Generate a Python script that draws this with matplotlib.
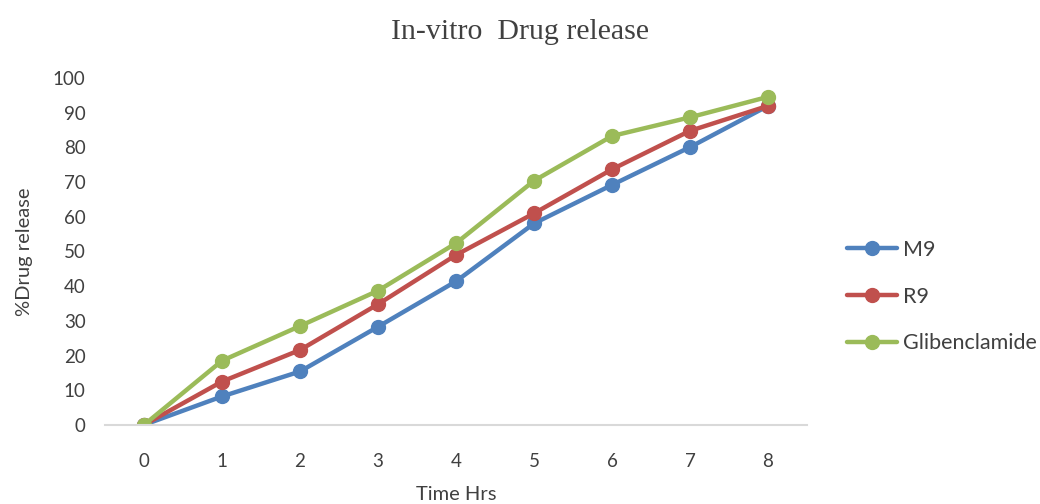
import matplotlib
matplotlib.use("Agg")
from matplotlib import pyplot as plt

hours = [0, 1, 2, 3, 4, 5, 6, 7, 8]
m9 = [0, 8.2, 15.4, 28.3, 41.4, 58.1, 69.2, 80.1, 92.0]
r9 = [0, 12.5, 21.6, 34.8, 49.0, 61.0, 73.7, 84.8, 92.0]
glib = [0, 18.5, 28.5, 38.7, 52.4, 70.4, 83.3, 88.7, 94.6]

series = [("M9", m9, "#4F81BD"), ("R9", r9, "#C0504D"), ("Glibenclamide", glib, "#9BBB59")]

plt.rcParams['font.family'] = ['Lato', 'DejaVu Sans']

fig = plt.figure(figsize=(10.4, 5.04), dpi=100)
ax = fig.add_axes([0.101, 0.157, 0.675, 0.688])

for name, vals, color in series:
    ax.plot(hours, vals, color=color, linewidth=3.2, marker='o', markersize=10,
            solid_capstyle='round', label=name)

ax.set_xlim(-0.5, 8.5)
ax.set_ylim(0, 100)
ax.set_yticks(range(0, 101, 10))
ax.set_xticks(hours)
for side in ['top', 'right', 'left']:
    ax.spines[side].set_visible(False)
ax.spines['bottom'].set_color('#D9D9D9')
ax.spines['bottom'].set_linewidth(1.5)
ax.tick_params(axis='both', length=0, labelsize=13.5, colors='#404040')
ax.tick_params(axis='x', pad=20)
ax.tick_params(axis='y', pad=14)

ax.set_xlabel("Time Hrs", fontsize=14.5, color='#404040', labelpad=12)
ax.set_ylabel("%Drug release", fontsize=14.5, color='#404040', labelpad=14)
fig.text(0.5, 0.937, "In-vitro  Drug release", ha='center', va='center',
         fontsize=21.5, family='Liberation Serif', color='#404040')

leg = ax.legend(loc='center left', bbox_to_anchor=(1.03, 0.37), frameon=False,
                fontsize=15.5, handlelength=2.3, labelspacing=1.25, handletextpad=0.3)
for t in leg.get_texts():
    t.set_color('#404040')

plt.savefig('out.png', dpi=100)
